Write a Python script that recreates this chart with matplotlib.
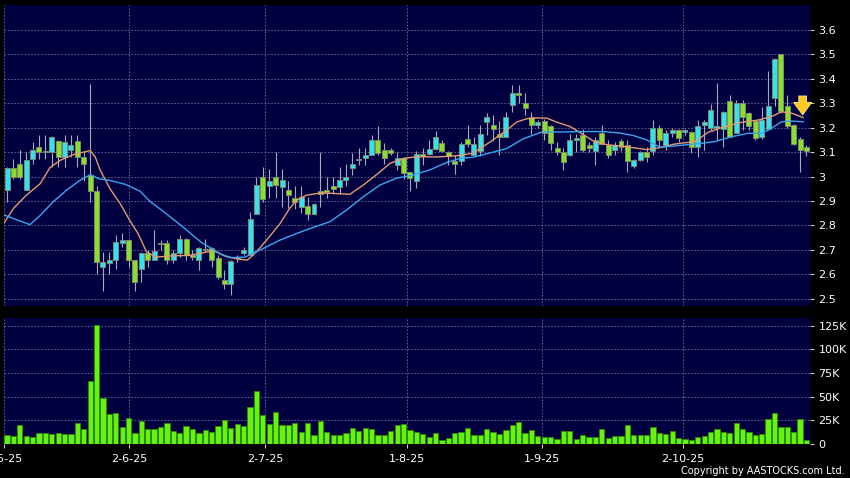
import matplotlib
matplotlib.use('Agg')
import matplotlib.pyplot as plt
import numpy as np

# ---------------------------------------------------------------
# daily candles (index 1 = first visible trading day)
# ---------------------------------------------------------------
opens = [2.946, 3.035, 3.05, 2.946, 3.07, 3.12, 3.10, 3.10, 3.145, 3.08,
         3.11, 3.145, 3.078, 3.005, 2.94, 2.63, 2.647, 2.658, 2.729, 2.74,
         2.657, 2.62, 2.687, 2.657, 2.725, 2.728, 2.657, 2.687, 2.745, 2.677,
         2.657, 2.70, 2.707, 2.667, 2.578, 2.559, 2.665, 2.687, 2.677, 2.848,
         2.998, 2.96, 2.998, 2.957, 2.946, 2.91, 2.875, 2.878, 2.848, 2.94,
         2.946, 2.96, 2.957, 2.987, 3.036, 3.067, 3.077, 3.09, 3.148, 3.11,
         3.11, 3.049, 3.077, 3.02, 2.98, 3.092, 3.092, 3.113, 3.139, 3.10,
         3.065, 3.065, 3.152, 3.089, 3.105, 3.222, 3.21, 3.173, 3.16, 3.292,
         3.34, 3.299, 3.242, 3.212, 3.228, 3.207, 3.117, 3.10, 3.089, 3.15,
         3.171, 3.13, 3.103, 3.178, 3.127, 3.11, 3.147, 3.127, 3.041, 3.067,
         3.102, 3.104, 3.198, 3.13, 3.18, 3.19, 3.181, 3.181, 3.122, 3.211,
         3.197, 3.20, 3.195, 3.31, 3.18, 3.30, 3.261, 3.228, 3.16, 3.195,
         3.322, 3.50, 3.29, 3.211, 3.152, 3.12]
highs = [3.04, 3.07, 3.11, 3.10, 3.14, 3.17, 3.17, 3.165, 3.15, 3.17,
         3.17, 3.17, 3.10, 3.38, 2.96, 2.69, 2.69, 2.76, 2.77, 2.74,
         2.66, 2.69, 2.70, 2.78, 2.74, 2.74, 2.70, 2.76, 2.75, 2.70,
         2.71, 2.745, 2.71, 2.677, 2.616, 2.657, 2.677, 2.71, 2.855, 3.00,
         3.04, 3.03, 3.10, 3.03, 2.98, 2.96, 2.96, 2.916, 2.892, 3.10,
         2.998, 3.00, 3.04, 3.05, 3.096, 3.118, 3.118, 3.17, 3.205, 3.137,
         3.115, 3.10, 3.08, 3.02, 3.103, 3.115, 3.15, 3.185, 3.15, 3.105,
         3.09, 3.14, 3.21, 3.16, 3.21, 3.26, 3.25, 3.227, 3.265, 3.374,
         3.374, 3.34, 3.264, 3.23, 3.235, 3.21, 3.14, 3.118, 3.175, 3.175,
         3.195, 3.14, 3.16, 3.209, 3.15, 3.14, 3.155, 3.148, 3.07, 3.105,
         3.12, 3.23, 3.21, 3.19, 3.20, 3.195, 3.195, 3.185, 3.23, 3.23,
         3.295, 3.384, 3.27, 3.335, 3.315, 3.315, 3.265, 3.23, 3.285, 3.433,
         3.485, 3.50, 3.335, 3.215, 3.16, 3.13]
lows = [2.896, 2.99, 2.99, 2.946, 3.05, 3.07, 3.07, 3.04, 3.04, 3.04,
        3.08, 3.04, 2.98, 2.896, 2.60, 2.53, 2.60, 2.62, 2.71, 2.63,
        2.53, 2.57, 2.63, 2.657, 2.70, 2.64, 2.645, 2.67, 2.66, 2.66,
        2.616, 2.69, 2.63, 2.58, 2.54, 2.517, 2.65, 2.677, 2.677, 2.848,
        2.895, 2.91, 2.91, 2.875, 2.87, 2.865, 2.85, 2.82, 2.845, 2.875,
        2.91, 2.93, 2.93, 2.96, 3.005, 3.046, 3.046, 3.09, 3.09, 3.05,
        3.09, 3.025, 2.99, 2.94, 2.953, 3.047, 3.09, 3.11, 3.10, 3.048,
        3.012, 3.046, 3.12, 3.082, 3.086, 3.17, 3.145, 3.09, 3.16, 3.265,
        3.30, 3.25, 3.175, 3.20, 3.148, 3.107, 3.09, 3.028, 3.085, 3.10,
        3.10, 3.10, 3.048, 3.13, 3.075, 3.09, 3.105, 3.018, 3.035, 3.065,
        3.059, 3.09, 3.12, 3.11, 3.16, 3.14, 3.17, 3.095, 3.08, 3.11,
        3.19, 3.15, 3.12, 3.16, 3.18, 3.19, 3.19, 3.15, 3.155, 3.19,
        3.29, 3.26, 3.20, 3.13, 3.02, 3.085]
closes = [3.035, 3.00, 3.00, 3.066, 3.11, 3.10, 3.10, 3.16, 3.08, 3.14,
          3.13, 3.08, 3.05, 2.94, 2.65, 2.65, 2.658, 2.73, 2.74, 2.66,
          2.567, 2.688, 2.657, 2.696, 2.728, 2.657, 2.687, 2.745, 2.677, 2.671,
          2.707, 2.705, 2.657, 2.589, 2.559, 2.654, 2.668, 2.698, 2.828, 2.967,
          2.909, 2.98, 2.967, 2.987, 2.926, 2.896, 2.916, 2.848, 2.889, 2.928,
          2.937, 2.947, 2.987, 2.998, 3.05, 3.069, 3.09, 3.148, 3.096, 3.077,
          3.098, 3.077, 3.016, 2.995, 3.092, 3.085, 3.112, 3.16, 3.105, 3.084,
          3.05, 3.132, 3.132, 3.132, 3.172, 3.242, 3.193, 3.16, 3.242, 3.34,
          3.334, 3.282, 3.21, 3.222, 3.18, 3.138, 3.102, 3.06, 3.151, 3.158,
          3.109, 3.118, 3.148, 3.134, 3.089, 3.127, 3.12, 3.062, 3.067, 3.10,
          3.08, 3.198, 3.15, 3.178, 3.19, 3.158, 3.19, 3.122, 3.207, 3.222,
          3.272, 3.205, 3.262, 3.163, 3.30, 3.245, 3.205, 3.158, 3.23, 3.29,
          3.483, 3.27, 3.208, 3.132, 3.11, 3.103]

# volume, thousands of shares
volume = [9.9, 8.1, 20.5, 8.8, 7.8, 12.0, 12.0, 10.2, 11.3, 10.2,
          10.9, 22.6, 16.2, 66.7, 125.7, 48.7, 31.4, 32.5, 18.0, 27.2,
          11.3, 24.7, 15.5, 15.5, 18.0, 21.9, 13.8, 11.7, 18.7, 15.5,
          11.3, 14.5, 12.7, 19.1, 25.0, 17.3, 21.5, 18.7, 39.5, 56.1,
          30.7, 20.8, 33.9, 19.8, 19.8, 22.2, 12.4, 22.2, 9.2, 24.0,
          12.7, 9.9, 9.9, 11.3, 17.0, 13.8, 17.0, 16.2, 9.9, 9.9,
          13.8, 19.8, 20.8, 14.5, 12.7, 10.2, 7.1, 12.0, 4.6, 6.7,
          11.7, 12.4, 17.3, 9.9, 9.2, 16.2, 13.1, 10.2, 14.8, 20.5,
          23.0, 11.7, 14.5, 8.5, 7.8, 7.8, 4.9, 13.8, 13.8, 5.6,
          9.2, 7.1, 7.1, 16.2, 6.0, 8.1, 8.1, 19.8, 9.9, 9.2,
          9.2, 18.4, 11.7, 10.6, 14.1, 6.4, 5.3, 3.9, 7.4, 8.5,
          12.7, 15.5, 12.4, 11.3, 22.6, 16.2, 12.4, 9.2, 10.2, 26.8,
          32.5, 18.4, 17.7, 13.1, 26.1, 3.9]

# moving averages (position in bars, price)
ma_short_x = [0.5, 2, 4, 6.2, 7.7, 9.3, 11.4, 13, 14, 14.8, 15.5, 17.1, 18.7,
              20.2, 21.5, 22.8, 24.3, 26.5, 29.5, 33.3, 35.3, 37.4, 38.6, 40,
              41.6, 43.7, 45.2, 46.3, 47.9, 49.9, 52, 54.6, 56.7, 58.8, 60.9,
              63, 65.1, 68.2, 71.8, 73.9, 76.5, 79.1, 80.7, 82.2, 83.8, 85.4,
              86.9, 89, 90.6, 92.7, 94.8, 96.8, 98.9, 101, 103.1, 105.4, 108.6,
              110.6, 113.2, 115.9, 118.4, 120.5, 122.1, 123.7, 125.5]
ma_short = [2.808, 2.869, 2.923, 2.971, 3.036, 3.066, 3.09, 3.10, 3.106, 3.08,
            3.03, 2.95, 2.889, 2.82, 2.766, 2.692, 2.67, 2.675, 2.677, 2.696,
            2.672, 2.661, 2.658, 2.692, 2.74, 2.808, 2.87, 2.904, 2.924, 2.932,
            2.931, 2.927, 2.965, 3.008, 3.054, 3.074, 3.081, 3.08, 3.086, 3.096,
            3.141, 3.189, 3.223, 3.236, 3.24, 3.239, 3.223, 3.205, 3.18, 3.145,
            3.13, 3.125, 3.118, 3.11, 3.118, 3.133, 3.143, 3.181, 3.204, 3.222,
            3.231, 3.245, 3.265, 3.259, 3.241]
ma_long_x = [0.5, 2.5, 4.6, 6.2, 8.2, 10.3, 12.4, 14, 15.5, 17.1, 19.5, 21.8,
             23.4, 25.2, 28.2, 31.4, 34.6, 36.1, 38.2, 39.8, 41.1, 43.7, 46.3,
             48.9, 51.5, 54.1, 56.7, 59.3, 61.9, 64.5, 67.1, 69.7, 71.8, 73.9,
             79.1, 81.7, 84.6, 87.4, 90.6, 94.2, 96.8, 98.9, 101, 103.1, 105.3,
             109.6, 111.7, 114.3, 116.9, 119, 120.5, 122.1, 123.7, 125.5]
ma_long = [2.843, 2.823, 2.803, 2.841, 2.896, 2.944, 2.984, 3.007, 2.99, 2.984,
           2.968, 2.94, 2.897, 2.862, 2.80, 2.73, 2.68, 2.668, 2.67, 2.69,
           2.706, 2.74, 2.767, 2.792, 2.815, 2.863, 2.917, 2.965, 2.993, 3.006,
           3.027, 3.057, 3.074, 3.079, 3.114, 3.154, 3.182, 3.182, 3.184, 3.184,
           3.178, 3.168, 3.15, 3.12, 3.125, 3.136, 3.143, 3.163, 3.177, 3.177,
           3.197, 3.224, 3.227, 3.224]

date_pos = [0.53, 20.1, 41.4, 63.6, 84.65, 106.7]
date_labels = ['2-5-25', '2-6-25', '2-7-25', '1-8-25', '1-9-25', '2-10-25']
price_ticks = [2.5, 2.6, 2.7, 2.8, 2.9, 3.0, 3.1, 3.2, 3.3, 3.4, 3.5, 3.6]
vol_ticks = [0, 25, 50, 75, 100, 125]

# ---------------------------------------------------------------
navy = '#000040'
grid_kw = dict(color='#6c6c9c', linestyle=(0, (2, 2)), linewidth=0.6)
up_col, down_col = '#30e2f2', '#88e028'

idx = np.arange(1, len(closes) + 1)
o = np.array(opens); c = np.array(closes)
h = np.array(highs); l = np.array(lows)
up = c >= o

fig = plt.figure(figsize=(8.5, 4.78), dpi=100, facecolor='black')
ax = fig.add_axes([4 / 850, 1 - 306 / 478, 806 / 850, 301 / 478], facecolor=navy)
axv = fig.add_axes([4 / 850, 1 - 444 / 478, 806 / 850, 126 / 478], facecolor=navy,
                   sharex=ax)

# price panel
ax.vlines(idx, l, h, color='#a8a8b8', linewidth=0.8, zorder=2)
body_lo = np.minimum(o, c)
body_h = np.maximum(np.abs(c - o), 0.004)
ax.bar(idx, body_h, bottom=body_lo, width=0.78,
       color=np.where(up, up_col, down_col), edgecolor='#7d8a70',
       linewidth=0.7, zorder=3)
ax.plot(ma_short_x, ma_short, color='#e59a6e', linewidth=1.0, zorder=4)
ax.plot(ma_long_x, ma_long, color='#3aa6f0', linewidth=1.0, zorder=4)

# signal arrow at the latest bar
ax.annotate('', xy=(idx[-1] - 0.6, ma_short[-1]),
            xytext=(idx[-1] - 0.6, ma_short[-1] + 0.1),
            arrowprops=dict(arrowstyle='simple,head_width=1.3,head_length=0.9,tail_width=0.55',
                            fc='#ffc81e', ec='#fff0a0', lw=0.6, mutation_scale=10),
            zorder=6)

ax.set_ylim(2.470, 3.702)
ax.set_yticks(price_ticks)
ax.set_yticklabels([f'{t:g}' for t in price_ticks])

# volume panel
axv.bar(idx, volume, width=0.82, color='#66f20f', edgecolor='#2e8a00',
        linewidth=0.6, zorder=3)
axv.set_ylim(0, 133.2)
axv.set_yticks(vol_ticks)
axv.set_yticklabels(['0' if t == 0 else f'{t}K' for t in vol_ticks])

axv.set_xlim(0.53, 126.55)
axv.set_xticks(date_pos)
axv.set_xticklabels(date_labels)

for a in (ax, axv):
    for s in a.spines.values():
        s.set_visible(False)
    a.yaxis.tick_right()
    a.tick_params(axis='y', colors='#c8c8c8', labelcolor='white', labelsize=8,
                  length=3, width=0.8, pad=3)
    a.grid(True, zorder=1, **grid_kw)
    a.set_axisbelow(True)

ax.tick_params(axis='x', bottom=False, labelbottom=False)
axv.tick_params(axis='x', colors='#c8c8c8', labelcolor='white', labelsize=8,
                length=3, width=0.8, pad=4)

fig.text(845 / 850, 1 - 471 / 478, 'Copyright by AASTOCKS.com Ltd.', color='white',
         fontsize=7, ha='right', va='center')

fig.savefig('out.png', dpi=100, facecolor='black')
